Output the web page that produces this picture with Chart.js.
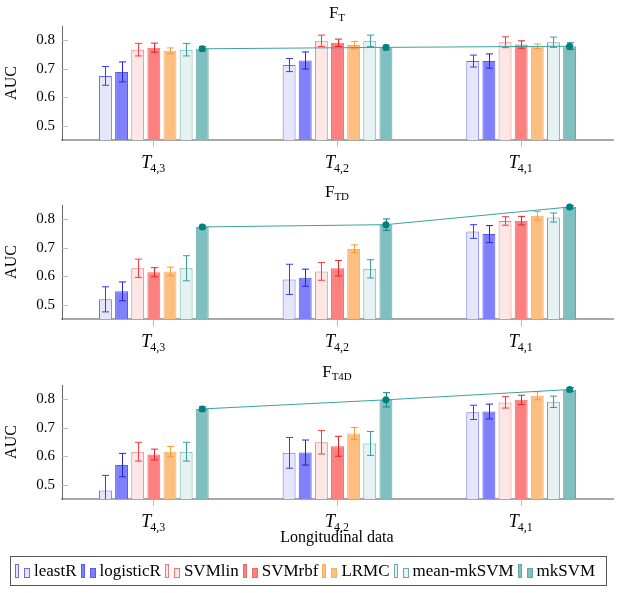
<!DOCTYPE html>
<html>
<head>
<meta charset="utf-8">
<script src="https://cdn.jsdelivr.net/npm/chart.js@4"></script>
<style>
  body { margin: 0; background: #fff; font-family: 'Liberation Serif', serif; }
  #wrap { position: relative; width: 621px; height: 593px; }
  .panel { position: absolute; left: 0; width: 621px; height: 180px; }
  .ttl { position: absolute; left: 61px; width: 552px; top: 3px; text-align: center; font-size: 17px; line-height: 20px; }
  .ttl sub { font-size: 11px; vertical-align: -3px; }
  #xlabel { position: absolute; left: 61px; width: 552px; top: 528px; text-align: center; font-size: 16px; line-height: 18px; }
  #legend { position: absolute; left: 10px; top: 556px; width: 597px; height: 30px; border: 1px solid #555;
            display: flex; align-items: center; padding-left: 4px; box-sizing: border-box; white-space: nowrap; }
  .item { display: flex; align-items: center; margin-right: 4px; font-size: 17px; flex: none; }
  .glyph { position: relative; width: 15px; height: 14px; margin-right: 4px; flex: none; }
  .glyph span { position: absolute; bottom: 0; box-sizing: border-box; border: 1px solid; }
</style>
</head>
<body>
<div id="wrap">
  <div class="panel" style="top:0"><canvas id="c0" width="621" height="180"></canvas><div class="ttl">F<sub>T</sub></div></div>
  <div class="panel" style="top:179px"><canvas id="c1" width="621" height="180"></canvas><div class="ttl">F<sub>TD</sub></div></div>
  <div class="panel" style="top:359px"><canvas id="c2" width="621" height="180"></canvas><div class="ttl">F<sub>T4D</sub></div></div>
  <div id="xlabel">Longitudinal data</div>
  <div id="legend"></div>
</div>
<script>
/* ---- data ---- */
const categories = ['4,3', '4,2', '4,1'];          // subscripts of T
const methods = ['leastR', 'logisticR', 'SVMlin', 'SVMrbf', 'LRMC', 'mean-mkSVM', 'mkSVM'];
const yTicks = [0.5, 0.6, 0.7, 0.8];

// AUC per method (rows) and per category (columns)
const aucFT = [
  [0.675, 0.713, 0.727],
  [0.689, 0.729, 0.727],
  [0.767, 0.798, 0.793],
  [0.774, 0.791, 0.785],
  [0.763, 0.783, 0.779],
  [0.767, 0.798, 0.793],
  [0.770, 0.775, 0.779],
];
const errFT = [
  [0.033, 0.023, 0.021],
  [0.035, 0.030, 0.025],
  [0.022, 0.020, 0.019],
  [0.016, 0.013, 0.013],
  [0.010, 0.013, 0.008],
  [0.022, 0.020, 0.018],
  [0.008, 0.008, 0.012],
];
const aucFTD = [
  [0.519, 0.589, 0.757],
  [0.547, 0.595, 0.748],
  [0.628, 0.617, 0.794],
  [0.614, 0.628, 0.795],
  [0.617, 0.696, 0.812],
  [0.628, 0.626, 0.806],
  [0.773, 0.781, 0.843],
];
const errFTD = [
  [0.044, 0.053, 0.024],
  [0.033, 0.030, 0.030],
  [0.032, 0.031, 0.015],
  [0.016, 0.027, 0.015],
  [0.015, 0.014, 0.015],
  [0.044, 0.032, 0.016],
  [0.006, 0.020, 0.005],
];
const aucFT4D = [
  [0.480, 0.612, 0.754],
  [0.569, 0.613, 0.757],
  [0.616, 0.649, 0.789],
  [0.606, 0.635, 0.798],
  [0.616, 0.680, 0.812],
  [0.616, 0.645, 0.791],
  [0.766, 0.798, 0.834],
];
const errFT4D = [
  [0.053, 0.054, 0.025],
  [0.041, 0.044, 0.026],
  [0.033, 0.041, 0.020],
  [0.019, 0.035, 0.016],
  [0.018, 0.021, 0.014],
  [0.033, 0.042, 0.020],
  [0.008, 0.025, 0.007],
];

/* ---- styles ---- */
const fills   = ['#e6e6fb', '#8080fb', '#fde6e6', '#fd8080', '#fdbf80', '#e6f2f2', '#80bfbf'];
const borders = ['#6a6af2', '#5a5af2', '#f07a7a', '#e86a6a', '#f8ae66', '#6aaaaa', '#62a8a8'];
const errCols = ['#3a3aff', '#2222e8', '#ff3a3a', '#e82222', '#ff9a2e', '#3a9e9e', '#1a8080'];
const CAT_PCT = 0.615, BAR_PCT = 0.8;
const FONT = "'Liberation Serif', serif";

/* ---- plugin: error bars, mkSVM trend line, inner y ticks, T-subscript labels ---- */
const decor = {
  id: 'decor',
  afterDatasetDraw(chart, args) {
    const ds = chart.data.datasets[args.index];
    const y = chart.scales.y, a = chart.chartArea, ctx = chart.ctx;
    ctx.save();
    ctx.beginPath(); ctx.rect(a.left, a.top - 10, a.right - a.left, a.bottom - a.top + 10); ctx.clip();
    ctx.strokeStyle = ds.errColor; ctx.lineWidth = 1;
    args.meta.data.forEach((bar, i) => {
      const v = ds.data[i], e = ds.errors[i];
      const x = Math.round(bar.x) + 0.5;
      const t = y.getPixelForValue(v + e), b = y.getPixelForValue(v - e);
      ctx.beginPath();
      ctx.moveTo(x, t); ctx.lineTo(x, b);
      ctx.moveTo(x - 3.5, t); ctx.lineTo(x + 3.5, t);
      ctx.moveTo(x - 3.5, b); ctx.lineTo(x + 3.5, b);
      ctx.stroke();
    });
    ctx.restore();
  },
  afterDatasetsDraw(chart) {
    // connect the tops of the mkSVM bars
    const ctx = chart.ctx;
    const bars = chart.getDatasetMeta(methods.length - 1).data;
    ctx.save();
    ctx.strokeStyle = '#3aa39e'; ctx.lineWidth = 1;
    ctx.beginPath();
    bars.forEach((b, i) => i ? ctx.lineTo(b.x, b.y) : ctx.moveTo(b.x, b.y));
    ctx.stroke();
    ctx.fillStyle = '#008080';
    bars.forEach(b => { ctx.beginPath(); ctx.arc(b.x, b.y, 3.5, 0, Math.PI * 2); ctx.fill(); });
    ctx.restore();
  },
  afterDraw(chart) {
    const ctx = chart.ctx, a = chart.chartArea, y = chart.scales.y, x = chart.scales.x;
    ctx.save();
    ctx.strokeStyle = '#bbb'; ctx.lineWidth = 1;
    yTicks.forEach(v => {
      const py = Math.round(y.getPixelForValue(v)) + 0.5;
      ctx.beginPath(); ctx.moveTo(a.left, py); ctx.lineTo(a.left + 6, py); ctx.stroke();
    });
    ctx.fillStyle = '#000'; ctx.textBaseline = 'alphabetic';
    categories.forEach((c, i) => {
      const px = x.getPixelForTick(i);
      ctx.font = 'italic 18px ' + FONT;
      const wT = ctx.measureText('T').width;
      ctx.font = '12px ' + FONT;
      const wS = ctx.measureText(c).width;
      const x0 = px - (wT + wS) / 2;
      const base = a.bottom + 28;
      ctx.font = 'italic 18px ' + FONT;
      ctx.fillText('T', x0, base);
      ctx.font = '12px ' + FONT;
      ctx.fillText(c, x0 + wT - 1, base + 4);
    });
    ctx.restore();
  }
};

function makeChart(id, auc, err) {
  const datasets = methods.map((m, k) => ({
    label: m,
    data: auc[k],
    errors: err[k],
    errColor: errCols[k],
    backgroundColor: fills[k],
    borderColor: borders[k],
    borderWidth: 1,
    categoryPercentage: CAT_PCT,
    barPercentage: BAR_PCT,
  }));

  new Chart(document.getElementById(id), {
    type: 'bar',
    data: { labels: categories, datasets },
    plugins: [decor],
    options: {
      responsive: false,
      animation: false,
      devicePixelRatio: 1,
      layout: { padding: { top: 26, right: 8, left: 0, bottom: 0 } },
      plugins: { legend: { display: false }, tooltip: { enabled: false } },
      scales: {
        x: {
          type: 'category',
          offset: true,
          grid: { offset: false, drawOnChartArea: false, drawTicks: true, tickLength: 7, color: '#bbb' },
          border: { color: '#a8a8a8', width: 2 },
          ticks: { display: false },
          afterFit: s => { s.height = 40; },
        },
        y: {
          min: 0.45, max: 0.85,
          afterBuildTicks: s => { s.ticks = yTicks.map(v => ({ value: v })); },
          grid: { drawOnChartArea: false, drawTicks: false },
          border: { color: '#666', width: 1 },
          ticks: { color: '#000', padding: 7, font: { family: FONT, size: 15 }, callback: v => v.toFixed(1) },
          title: { display: true, text: 'AUC', color: '#000', font: { family: FONT, size: 16 }, padding: 2 },
          afterFit: s => { s.width = 62; },
        },
      },
    },
  });
}

makeChart('c0', aucFT, errFT);
makeChart('c1', aucFTD, errFTD);
makeChart('c2', aucFT4D, errFT4D);

/* ---- shared legend ---- */
const legend = document.getElementById('legend');
methods.forEach((m, k) => {
  const it = document.createElement('div');
  it.className = 'item';
  const g = document.createElement('div');
  g.className = 'glyph';
  g.innerHTML =
    `<span style="left:0;width:4px;height:14px;background:${fills[k]};border-color:${borders[k]}"></span>` +
    `<span style="left:9px;width:6px;height:10px;background:${fills[k]};border-color:${borders[k]}"></span>`;
  const t = document.createElement('span');
  t.textContent = m;
  it.appendChild(g); it.appendChild(t);
  legend.appendChild(it);
});
</script>
</body>
</html>
